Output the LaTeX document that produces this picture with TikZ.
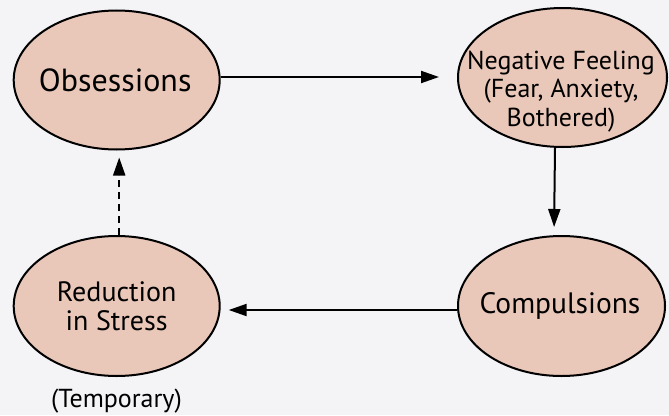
\documentclass[tikz,border=0pt]{standalone}
\usepackage{fontspec}
\setmainfont{PT Sans}
\usetikzlibrary{shapes.geometric,arrows.meta}
\definecolor{bubble}{HTML}{EAC8B9}
\definecolor{bg}{HTML}{F4F4F7}
\begin{document}
\begin{tikzpicture}[x=1pt,y=-1pt,
  bub/.style={ellipse,draw=black,line width=2pt,fill=bubble,minimum width=206pt,minimum height=139pt,inner sep=0pt},
  txt/.style={align=center,inner sep=0pt},
  arr/.style={line width=2pt,-{Triangle[length=18pt,width=12pt]}}]
\fill[bg] (0,0) rectangle (669,415);
\useasboundingbox (0,0) rectangle (669,415);
\node[bub,label={[txt,font=\fontsize{32}{36}\selectfont,xshift=-1.5pt]center:Obsessions}] (obs) at (116.7,80) {};
\node[bub,minimum width=209pt,label={[txt,font=\fontsize{26}{28.7}\selectfont,yshift=-14pt,xshift=-1.5pt]center:Negative Feeling\\(Fear, Anxiety,\\Bothered)}] (neg) at (562.5,77.5) {};
\node[bub,minimum width=207pt,minimum height=140pt,label={[txt,font=\fontsize{29.5}{34}\selectfont,xshift=-1.5pt]center:Compulsions}] (comp) at (561.5,306) {};
\node[bub,minimum height=140pt,label={[txt,font=\fontsize{28}{29.3}\selectfont]center:Reduction\\in Stress}] (red) at (116.7,306) {};
\node[txt,font=\fontsize{26}{30}\selectfont] (tmp) at (116.5,401) {(Temporary)};
\draw[arr,shorten >=18pt] ([yshift=3pt]obs.east) -- ([yshift=3pt]obs.east -| neg.west);
\draw[arr,shorten >=8pt] ([xshift=-7.5pt]neg.south) -- ([xshift=-7.5pt]comp.north);
\draw[arr,shorten >=8pt] ([yshift=-4pt]comp.west) -- ([yshift=-4pt]comp.west -| red.east);
\draw[arr,dash pattern=on 7pt off 5pt,shorten >=7pt] ([xshift=2.5pt]red.north) -- ([xshift=2.5pt]obs.south);
\end{tikzpicture}
\end{document}
